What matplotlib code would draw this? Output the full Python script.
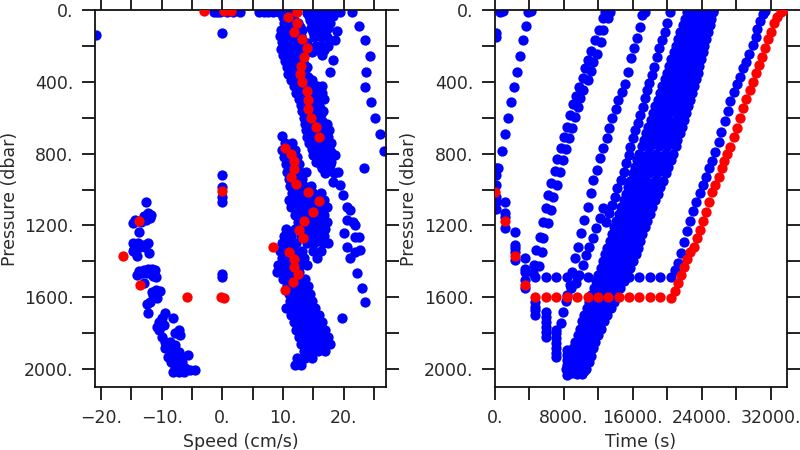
import matplotlib
matplotlib.use('Agg')
import matplotlib.pyplot as plt
from matplotlib.ticker import FixedLocator, FuncFormatter

BLUE = '#0000ff'
RED = '#ff0000'
TXT = '#2a2a2a'

# ================= LEFT PANEL: speed (cm/s) vs pressure (dbar) =================
# surface row and isolated points
l_surf_speed = [-1.4, -0.9, -0.4, 0.7, 1.8, 2.9, 6.0, 6.8, 7.6, 8.4, 9.3, 10.1, 10.9, 11.7, 19.4, 21.4]
l_surf_pres = [9, 9, 9, 9, 9, 9, 9, 9, 9, 9, 9, 9, 9, 9, 13, 13]
l_iso_speed = [-20.8, 0.0, 0.0, 0.0, 0.0, 0.0, 0.0, 0.0]
l_iso_pres = [139, 126, 919, 984, 1040, 1068, 1473, 1486]

# near-surface V-shaped cluster (rows: pressure -> speeds)
l_v_rows = {
    15: [14.0, 15.0, 16.0, 17.0, 18.0], 35: [14.3, 15.3, 16.3, 17.3, 18.3],
    55: [14.5, 15.5, 16.5, 17.5], 75: [14.8, 15.8, 16.8, 17.8],
    100: [14.6, 15.6, 16.6, 17.5], 117: [18.9], 125: [15.0, 16.0, 17.0],
    150: [15.2, 16.2, 17.2], 167: [18.6], 186: [14.0], 200: [15.5, 16.5, 17.5],
    225: [15.8, 16.8], 232: [14.8], 250: [16.4], 279: [18.3], 344: [17.8],
}
# upper strand (0-900 dbar)
l_upper_rows = {
    40: [10.0, 11.2], 75: [10.1, 11.5, 12.5], 110: [9.6, 10.8, 12.0, 13.2],
    145: [9.5, 10.6, 11.8, 13.0], 180: [9.8, 11.0, 12.2, 13.4], 215: [9.7, 10.9, 12.1],
    250: [10.0, 11.2, 12.4, 13.5], 285: [10.3, 11.5, 12.7], 320: [10.6, 11.8, 13.0, 14.0],
    355: [10.9, 12.1, 13.3], 390: [11.3, 12.5, 13.7, 14.8], 425: [11.8, 12.9, 14.1, 15.6, 16.4],
    460: [12.2, 13.4, 14.6, 16.4], 495: [12.6, 13.8, 15.0, 16.7], 530: [12.9, 14.1, 15.3],
    565: [13.2, 14.4, 15.6, 16.6], 600: [13.4, 14.6, 15.8], 635: [13.6, 14.8, 16.0, 17.2],
    670: [13.8, 15.0, 16.2, 17.6], 705: [14.0, 15.2, 16.4, 17.4], 740: [14.3, 15.5, 16.7, 18.0],
    775: [14.8, 16.0, 17.2], 810: [15.0, 16.2, 17.5, 18.6], 845: [15.5, 16.8, 18.0],
    880: [16.5, 17.6], 910: [17.0, 18.5],
}
l_upper_rows_2 = {
    57: [10.6, 11.8], 92: [10.4, 11.2, 12.8], 127: [10.2, 11.4, 12.6], 162: [10.1, 11.2, 12.4],
    197: [10.4, 11.6, 12.8], 232: [10.3, 11.6, 12.8], 267: [10.6, 11.9, 13.1],
    302: [10.9, 12.2, 13.4], 337: [11.3, 12.5, 13.7], 372: [11.7, 12.9, 14.2],
    407: [12.2, 13.3, 14.5], 442: [12.6, 13.8, 15.0], 477: [13.0, 14.2, 15.4],
    512: [13.4, 14.6, 15.9], 547: [13.6, 14.8, 16.1], 582: [13.8, 15.0, 16.2],
    617: [14.0, 15.2, 16.5], 652: [14.2, 15.4, 16.8], 687: [14.5, 15.8, 17.0],
    722: [14.7, 16.0, 17.3], 757: [15.0, 16.4, 17.6], 792: [15.4, 16.7, 18.0],
    827: [15.8, 17.2], 862: [16.2, 17.8],
}
# lower strand (700-1980 dbar)
l_lower_rows = {
    700: [9.8], 740: [10.4, 11.5], 780: [9.9, 11.0, 12.0], 820: [10.2, 11.3, 12.4],
    860: [10.5, 11.6, 12.7], 900: [10.6, 11.7, 12.8, 13.8], 940: [11.0, 12.1, 13.2],
    980: [11.2, 12.4, 13.5, 14.6], 1020: [11.5, 12.6, 13.8, 15.0, 16.2],
    1060: [11.0, 12.2, 13.4, 14.6, 15.8, 16.8], 1100: [11.4, 12.6, 13.8, 15.0, 16.2, 17.2],
    1140: [12.0, 13.2, 14.4, 15.6, 16.8], 1180: [12.5, 13.7, 14.9, 16.1, 17.3],
    1220: [10.5, 12.0, 13.5, 14.8, 16.0, 17.0], 1260: [10.2, 11.4, 13.0, 14.5, 15.6, 16.8],
    1300: [9.8, 11.0, 12.2, 14.0, 15.2, 16.6, 17.5], 1340: [9.5, 10.7, 11.9, 13.1, 15.0, 16.2],
    1380: [9.8, 11.0, 12.2, 13.4, 15.6], 1420: [9.2, 10.4, 11.6, 12.8, 14.0],
    1460: [9.0, 10.2, 11.4, 12.6], 1500: [10.0, 11.2, 12.4, 13.6],
    1540: [10.6, 11.8, 13.0, 14.2], 1580: [11.0, 12.2, 13.4, 14.5],
    1620: [11.2, 12.4, 13.6, 14.8], 1660: [10.5, 11.7, 12.9, 14.1, 15.3],
    1700: [11.4, 12.6, 13.8, 15.0, 16.0], 1740: [11.8, 13.0, 14.2, 15.4, 16.5],
    1780: [12.2, 13.4, 14.6, 15.8, 17.0], 1820: [12.6, 13.8, 15.0, 16.2, 17.5],
    1860: [13.0, 14.2, 15.4, 16.6, 17.8], 1900: [13.4, 14.6, 15.8, 17.0],
    1940: [12.4, 13.6, 14.8], 1975: [12.0, 13.0],
}
# sparse fast points on the right
l_fast_speed = [22.5, 23.6, 24.3, 23.7, 23.6, 24.5, 25.2, 26.0, 26.6, 23.4,
                19.1, 18.3, 19.4, 19.9, 20.5, 21.1, 20.5, 21.6, 21.9, 20.0, 21.9, 22.5,
                20.5, 21.1, 21.9, 22.7, 22.2, 23.0, 23.6, 19.7]
l_fast_pres = [89, 167, 255, 344, 427, 514, 603, 692, 786, 882,
               901, 958, 975, 1031, 1096, 1114, 1170, 1179, 1198, 1244, 1263, 1263,
               1319, 1383, 1346, 1337, 1467, 1547, 1628, 1714]
# descending (negative speed) cluster
l_desc_speed = [-12.6, -12.3, -13.0, -11.9, -14.4, -13.4, -12.6, -14.8, -11.8, -13.7,
                -14.7, -13.9, -13.1, -12.3, -14.5, -13.6, -12.8, -14.7, -12.1, -14.1,
                -13.8, -13.0, -12.2, -11.6, -11.1, -14.1, -13.3, -12.5, -11.4, -10.9, -12.9,
                -11.6, -11.0, -10.3, -11.4, -10.8, -12.0, -12.5, -12.2,
                -9.4, -10.0, -10.5, -8.1, -10.8, -9.7, -10.5,
                -7.2, -7.8, -7.0, -10.0, -9.4, -8.6, -7.8, -9.4, -8.6, -7.2, -8.1, -7.0, -8.9,
                -5.7, -8.4, -7.5, -6.7, -7.8, -7.0, -6.1, -5.3, -4.5, -8.1, -7.2, -6.4]
l_desc_pres = [1071, 1133, 1145, 1158, 1170, 1180, 1170, 1189, 1140, 1235,
               1300, 1300, 1310, 1300, 1330, 1320, 1322, 1340, 1355, 1372,
               1455, 1450, 1445, 1442, 1450, 1475, 1465, 1465, 1483, 1488, 1520,
               1570, 1562, 1567, 1590, 1605, 1625, 1640, 1686,
               1690, 1718, 1736, 1714, 1764, 1755, 1783,
               1783, 1801, 1810, 1820, 1848, 1848, 1866, 1885, 1894, 1903, 1922, 1931, 1935,
               1922, 1959, 1968, 1959, 1987, 1996, 1996, 2005, 2005, 2015, 2018, 2015]
# red profile
l_red_speed = [-3.0, 0.2, 1.4, 0.0, -13.7, -16.4, -13.5, -5.8, -0.2, 0.3,
               8.3, 10.4, 11.6, 12.5, 11.9, 11.8, 11.0, 13.3, 12.7, 13.4, 14.9, 16.0, 14.2,
               12.2, 11.3, 11.9, 11.9, 11.4, 10.3, 16.0, 15.5, 14.6, 14.2, 14.1, 14.0, 13.2,
               12.8, 13.0, 13.4, 14.0, 13.1, 11.9, 12.3, 10.9, 12.3]
l_red_pres = [5, 5, 5, 1008, 1174, 1370, 1532, 1600, 1600, 1604,
              1319, 1560, 1517, 1472, 1430, 1387, 1350, 1272, 1226, 1176, 1124, 1064, 1014,
              969, 929, 886, 841, 802, 767, 708, 654, 600, 552, 503, 451, 403,
              357, 310, 264, 210, 162, 121, 74, 39, 13]

# ================= RIGHT PANEL: time (s) vs pressure (dbar) =================
r_zero_time = [80, 80, 550, 930, 80, 80, 80, 80, 80, 80]
r_zero_pres = [128, 150, 13, 5, 919, 975, 1040, 1070, 1110, 882]
# steep early ascent
r_b2_time = [4220, 3840, 3640, 3260, 2940, 2560, 2210, 1830, 1480, 1130, 780, 380]
r_b2_pres = [5, 13, 87, 167, 255, 344, 427, 514, 603, 692, 786, 882]
# stacked samples during descent
r_stack_time = [1110, 1110, 1110, 1110, 2290, 2290, 2290, 2290, 2290,
                3530, 3530, 3530, 3530, 3530, 4690, 4690, 4690, 4690, 4690,
                5890, 5890, 5890, 5890, 5890, 5890, 7130, 7130, 7130, 7130, 7130, 7130, 7130,
                8340, 8340, 8340, 8340, 8340, 8340, 8900, 9540, 10100, 9200, 9900, 8600, 10300]
r_stack_pres = [1071, 1133, 1151, 1216, 1235, 1309, 1328, 1346, 1393,
                1380, 1443, 1461, 1504, 1551, 1426, 1625, 1653, 1671, 1700,
                1680, 1708, 1736, 1764, 1792, 1820, 1782, 1801, 1829, 1857, 1885, 1913, 1932,
                1894, 1922, 1950, 1978, 2005, 2033, 2020, 2030, 2025, 1990, 1995, 2000, 2010]
# blue drift at ~1485 dbar and its ascent
r_b1_time = [4690, 5890, 7130, 8340, 9540, 10740, 11940, 13140, 14340, 15550, 16750, 17950, 19190, 20430,
             20850, 21250, 21600, 21950, 22330, 22680, 22990, 23380, 23760, 24160, 24540, 24850,
             25200, 25590, 25970, 26280, 26670, 27020, 27330, 27760, 28140, 28460, 28810, 29190,
             29540, 29970, 30270, 30440, 30740, 31130, 31400]
r_b1_pres = [1485, 1485, 1485, 1485, 1485, 1485, 1485, 1485, 1485, 1485, 1485, 1485, 1485, 1490,
             1448, 1411, 1352, 1291, 1229, 1174, 1120, 1071, 1021, 975, 929, 882,
             841, 789, 734, 678, 618, 563, 507, 459, 414, 371, 325, 288,
             247, 195, 150, 105, 60, 25, 5]
# pair of ascents ending near 13000 s
r_b3_time = [12560, 12100, 11590, 11200, 10820, 10430, 10160, 9770, 9460, 9070, 8760, 8370, 7990,
             7640, 7250, 6940, 6550, 6160, 5890, 5580, 5200, 4730, 4500, 4420,
             13140, 12560, 12250, 11860, 11400, 11200, 10820, 10160, 9920, 9650, 9270, 8990, 8610,
             8290, 7910, 7520, 7210, 6750, 6550, 6160, 5580, 5500, 5080, 12800, 13300]
r_b3_pres = [46, 111, 167, 228, 279, 325, 377, 427, 477, 525, 585, 650, 706,
             771, 830, 897, 966, 1031, 1105, 1179, 1263, 1337, 1421, 1465,
             46, 111, 177, 247, 288, 340, 390, 446, 492, 539, 594, 656, 715,
             774, 836, 901, 975, 1040, 1114, 1188, 1272, 1346, 1426, 12, 12]
# ascent ending near 17000 s
r_b4_time = [17400, 17020, 16830, 16510, 16130, 15780, 15390, 15080, 14690, 14300, 14040, 13640,
             13260, 12950, 12560, 12180, 11790, 11400, 11090, 10740, 10320, 9970, 9650,
             9270, 8960, 8760, 8200, 7910, 7710]
r_b4_pres = [9, 28, 93, 154, 214, 269, 344, 412, 459, 501, 552, 603,
             656, 711, 771, 826, 891, 947, 1021, 1096, 1170, 1244, 1319,
             1383, 1461, 1532, 1620, 1680, 1745]
# ascent ending near 20300 s
r_b5_time = [20270, 19970, 19770, 19380, 18990, 18800, 18490, 18220, 17830, 17640, 17450, 17130,
             16860, 16550, 16280, 16010, 15700, 15500, 15240, 14920, 14620, 14220, 13960,
             13570, 13260, 12870, 12560, 12180, 11710, 11320, 10930, 10550, 10160, 9770,
             9380, 8880, 8370]
r_b5_pres = [9, 74, 121, 167, 214, 260, 316, 362, 408, 446, 492, 539,
             585, 631, 669, 715, 761, 808, 854, 901, 947, 993, 1040,
             1086, 1133, 1179, 1105, 1161, 1216, 1272, 1319, 1365, 1421, 1476,
             1523, 1551, 1588]
# dense band of ascents, grid A pressures
band_a_pres = [2000, 1925, 1850, 1775, 1700, 1625, 1550, 1475, 1400, 1325, 1250, 1175, 1100, 1025,
               950, 875, 800, 725, 650, 575, 500, 425, 350, 275, 200, 125, 50]
band_a1_time = [8270, 8800, 9330, 9860, 10390, 10920, 11450, 11980, 12510, 13040, 13570, 14100, 14630,
                15160, 15690, 16220, 16750, 17280, 17810, 18350, 18880, 19410, 19940, 20470, 21000,
                21530, 22060]
band_a2_time = [8850, 9380, 9910, 10460, 11050, 11640, 12230, 12810, 13400, 13930, 14450, 14990, 15540,
                16090, 16640, 17190, 17740, 18250, 18770, 19300, 19820, 20330, 20840, 21330, 21830,
                22320, 22820]
band_a3_time = [9430, 9960, 10480, 11050, 11710, 12370, 13010, 13650, 14290, 14810, 15340, 15880, 16450,
                17010, 17580, 18150, 18730, 19230, 19730, 20250, 20750, 21260, 21730, 22190, 22660,
                23120, 23570]
band_a4_time = [10010, 10530, 11060, 11650, 12370, 13090, 13790, 14480, 15170, 15700, 16220, 16770, 17350,
                17940, 18530, 19120, 19710, 20200, 20690, 21200, 21690, 22180, 22630, 23060, 23490,
                23910, 24340]
band_a5_time = [10590, 11110, 11640, 12250, 13030, 13820, 14570, 15320, 16060, 16580, 17110, 17660, 18260,
                18870, 19480, 20090, 20700, 21180, 21660, 22140, 22620, 23110, 23530, 23920, 24320,
                24710, 25090]
# dense band, grid B pressures
band_b_pres = [1960, 1885, 1810, 1735, 1660, 1585, 1510, 1435, 1360, 1285, 1210, 1135, 1060, 985,
               910, 835, 760, 685, 610, 535, 460, 385, 310, 235, 160, 85, 10]
band_b0_time = [8550, 9080, 9610, 10140, 10670, 11200, 11730, 12270, 12800, 13330, 13860, 14390, 14920,
                15450, 15980, 16510, 17040, 17570, 18100, 18630, 19160, 19690, 20220, 20750, 21280,
                21810, 22340]
band_b1_time = [9130, 9660, 10190, 10770, 11360, 11960, 12540, 13130, 13690, 14210, 14740, 15290, 15840,
                16390, 16940, 17490, 18020, 18540, 19050, 19570, 20090, 20600, 21100, 21600, 22090,
                22590, 23080]
band_b2_time = [9710, 10230, 10760, 11400, 12060, 12710, 13350, 14000, 14570, 15100, 15630, 16190, 16760,
                17320, 17900, 18470, 19000, 19510, 20010, 20510, 21020, 21520, 21980, 22440, 22900,
                23360, 23820]
band_b3_time = [10290, 10810, 11340, 12030, 12750, 13470, 14160, 14860, 15460, 15980, 16510, 17090, 17670,
                18260, 18850, 19440, 19980, 20470, 20960, 21460, 21950, 22430, 22860, 23290, 23710,
                24140, 24560]
band_b4_time = [10865, 11390, 11910, 12660, 13450, 14220, 14970, 15720, 16350, 16870, 17390, 17990, 18590,
                19200, 19810, 20420, 20960, 21440, 21920, 22400, 22880, 23340, 23740, 24130, 24520,
                24910, 25300]
band_top_time = [22350, 23100, 23850, 24600, 25300]
band_top_pres = [6, 6, 6, 6, 6]
# red profile
r_red_time = [0, 1130, 2290, 3530,
              4690, 5890, 7130, 8340, 9540, 10740, 11940, 13140, 14340, 15550, 16750, 17950, 19190,
              20430, 20850, 21250, 21600, 21950, 22300, 22680, 23060, 23460, 23810, 24160, 24500,
              24850, 25200, 25590, 25970, 26370, 26630, 26950, 27330, 27720, 28110, 28490, 28810,
              29190, 29580, 29970, 30350, 30670, 31020, 31370, 31720, 32060, 32370, 32760, 33150, 33490]
r_red_pres = [1012, 1174, 1370, 1532,
              1600, 1600, 1600, 1600, 1600, 1600, 1600, 1600, 1600, 1600, 1600, 1600, 1600,
              1606, 1564, 1523, 1476, 1432, 1389, 1350, 1319, 1272, 1226, 1176, 1124,
              1068, 1016, 975, 929, 882, 839, 804, 761, 706, 656, 600, 548,
              498, 446, 399, 353, 306, 260, 210, 163, 121, 74, 37, 13, 0]

YMAJOR = [0, 400, 800, 1200, 1600, 2000]
YMINOR = [200, 600, 1000, 1400, 1800]
XL_MAJOR = [-20, -10, 0, 10, 20]
XL_MINOR = [-15, -5, 5, 15, 25]
XR_MAJOR = [0, 8000, 16000, 24000, 32000]
XR_MINOR = [4000, 12000, 20000, 28000]


def expand(rows):
    xs, ys = [], []
    for p, vals in rows.items():
        for v in vals:
            xs.append(v)
            ys.append(p)
    return xs, ys


def ferret_fmt(v, pos):
    s = '%d.' % int(round(v))
    return s.replace('-', '\u2212')


plt.rcParams['font.family'] = ['DejaVu Sans']
fig = plt.figure(figsize=(8, 4.5), dpi=100)
axL = fig.add_axes([0.11875, 0.14, 0.36375, 0.8378])
axR = fig.add_axes([0.61875, 0.14, 0.365, 0.8378])

S = 55
# left panel blue
lb_x = list(l_surf_speed) + list(l_iso_speed) + list(l_fast_speed) + list(l_desc_speed)
lb_y = list(l_surf_pres) + list(l_iso_pres) + list(l_fast_pres) + list(l_desc_pres)
for rows in (l_v_rows, l_upper_rows, l_upper_rows_2, l_lower_rows):
    xs, ys = expand(rows)
    lb_x += xs
    lb_y += ys
axL.scatter(lb_x, lb_y, s=S, c=BLUE, linewidths=0, zorder=2)
axL.scatter(l_red_speed, l_red_pres, s=S, c=RED, linewidths=0, zorder=3)

# right panel blue
rb_x = (r_zero_time + r_b2_time + r_stack_time + r_b1_time + r_b3_time + r_b4_time + r_b5_time
        + band_a1_time + band_a2_time + band_a3_time + band_a4_time + band_a5_time
        + band_b0_time + band_b1_time + band_b2_time + band_b3_time + band_b4_time + band_top_time)
rb_y = (r_zero_pres + r_b2_pres + r_stack_pres + r_b1_pres + r_b3_pres + r_b4_pres + r_b5_pres
        + band_a_pres * 5 + band_b_pres * 5 + band_top_pres)
axR.scatter(rb_x, rb_y, s=S, c=BLUE, linewidths=0, zorder=2)
axR.scatter(r_red_time, r_red_pres, s=S, c=RED, linewidths=0, zorder=3)

for ax, xmaj, xmin, xlim, xlabel in ((axL, XL_MAJOR, XL_MINOR, (-21, 27), 'Speed (cm/s)'),
                                     (axR, XR_MAJOR, XR_MINOR, (0, 33900), 'Time (s)')):
    ax.set_xlim(*xlim)
    ax.set_ylim(2100, 0)
    ax.xaxis.set_major_locator(FixedLocator(xmaj))
    ax.xaxis.set_minor_locator(FixedLocator(xmin))
    ax.yaxis.set_major_locator(FixedLocator(YMAJOR))
    ax.yaxis.set_minor_locator(FixedLocator(YMINOR))
    ax.xaxis.set_major_formatter(FuncFormatter(ferret_fmt))
    ax.yaxis.set_major_formatter(FuncFormatter(ferret_fmt))
    ax.tick_params(which='both', direction='out', top=True, right=True, length=9.5, width=1.3,
                   color='#111111', labelsize=12.5, labelcolor=TXT, pad=6)
    for sp in ax.spines.values():
        sp.set_linewidth(1.3)
        sp.set_color('#111111')
    ax.set_xlabel(xlabel, fontsize=12.5, color=TXT, labelpad=5)
    ax.set_ylabel('Pressure (dbar)', fontsize=12.5, color=TXT)
    ax.yaxis.set_label_coords(-0.262, 0.5)

fig.savefig('out.png', dpi=100)
